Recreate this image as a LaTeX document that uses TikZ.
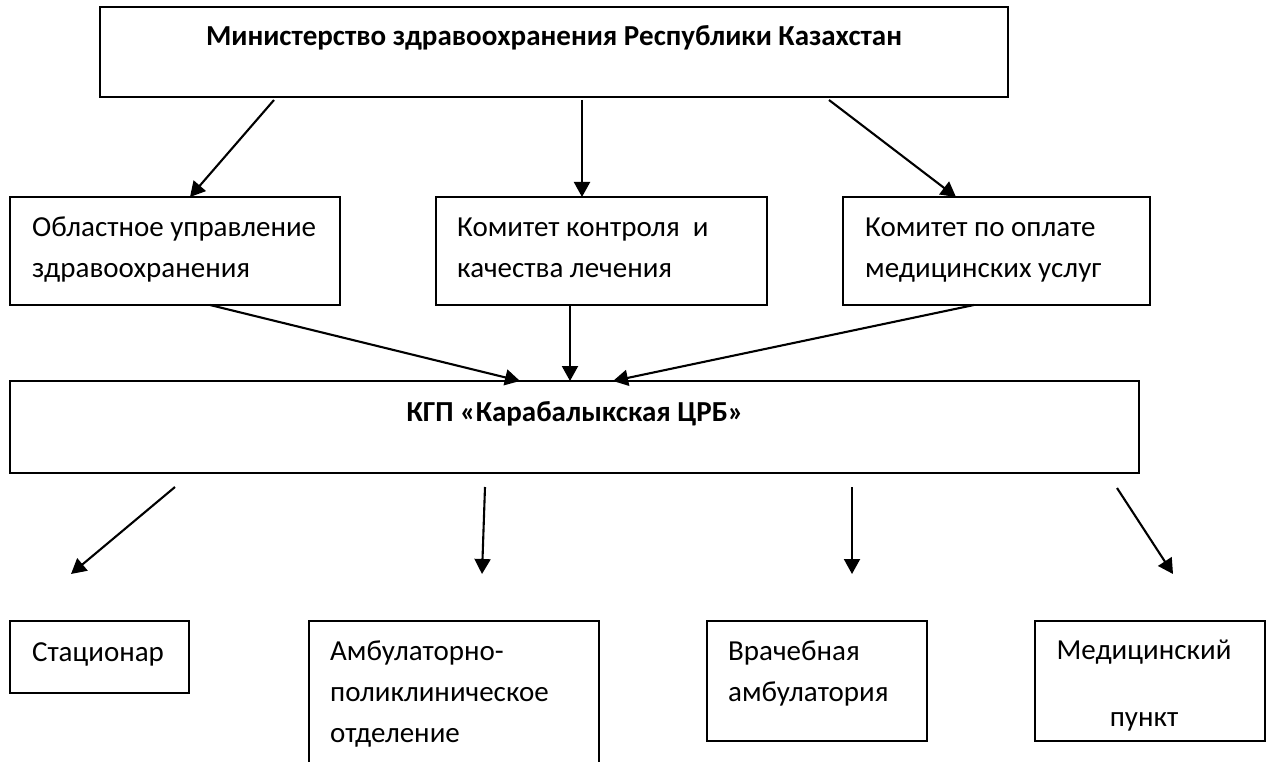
\documentclass[tikz,border=0pt]{standalone}
\usepackage{fontspec}
\setmainfont{Carlito}
\usetikzlibrary{arrows.meta,calc}
\begin{document}
\begin{tikzpicture}[x=1pt,y=-1pt,
  box/.style={draw, line width=2pt, rectangle, inner sep=0pt, outer sep=0pt, anchor=north west},
  lbl/.style={font=\fontsize{29}{41}\selectfont, inner sep=0pt},
  blbl/.style={font=\fontsize{29}{41}\selectfont\bfseries, inner sep=0pt},
  conn/.style={line width=2.1pt, -{Triangle[length=15pt,width=16pt]}}
]
\clip (0,0) rectangle (1269,762);
\useasboundingbox (0,0) rectangle (1269,762);

% boxes
\node[box, minimum width=908pt, minimum height=90pt] (min) at (100,7) {};
\node[blbl, anchor=base] (mint) at (554,46) {Министерство здравоохранения Республики Казахстан};

\node[box, minimum width=330pt, minimum height=108pt] (obl) at (10,197) {};
\node[lbl, anchor=base west, align=left] (oblt) at (32,277) {Областное управление\\здравоохранения};

\node[box, minimum width=331pt, minimum height=108pt] (kom) at (436,197) {};
\node[lbl, anchor=base west, align=left] (komt) at (457,277) {Комитет контроля\ \ и\\качества лечения};

\node[box, minimum width=307pt, minimum height=108pt] (opl) at (843,197) {};
\node[lbl, anchor=base west, align=left] (oplt) at (865,277) {Комитет по оплате\\медицинских услуг};

\node[box, minimum width=1129pt, minimum height=92pt] (kgp) at (10,381) {};
\node[blbl, anchor=base] (kgpt) at (575,421) {КГП «Карабалыкская ЦРБ»};

\node[box, minimum width=179pt, minimum height=72pt] (stac) at (10,621) {};
\node[lbl, anchor=base] (stact) at (98,661) {Стационар};

\node[box, minimum width=290pt, minimum height=170pt] (amb) at (309,621) {};
\node[lbl, anchor=base west, align=left] (ambt) at (330,742) {Амбулаторно-\\поликлиническое\\отделение};

\node[box, minimum width=220pt, minimum height=120pt] (vrach) at (707,621) {};
\node[lbl, anchor=base west, align=left] (vracht) at (728,701) {Врачебная\\амбулатория};

\node[box, minimum width=230pt, minimum height=120pt] (med) at (1035,621) {};
\node[lbl, anchor=base, align=center] (medt) at (1144,726) {Медицинский\\[26pt]пункт};

% connector end points
\coordinate (a1s) at ($(min.south west)+(174,3)$);
\coordinate (a1e) at ($(obl.north west)+(180,0)$);
\coordinate (a2s) at ($(min.south west)+(482,3)$);
\coordinate (a2e) at ($(kom.north west)+(146,0)$);
\coordinate (a3s) at ($(min.south west)+(729,3)$);
\coordinate (a3e) at ($(opl.north west)+(113,0)$);

\coordinate (b1s) at ($(obl.south west)+(200,0)$);
\coordinate (b1e) at ($(kgp.north west)+(510,0)$);
\coordinate (b2s) at ($(kom.south west)+(134,0)$);
\coordinate (b2e) at ($(kgp.north west)+(560,0)$);
\coordinate (b3s) at ($(opl.south west)+(131,0)$);
\coordinate (b3e) at ($(kgp.north west)+(603,0)$);

\coordinate (c1s) at ($(kgp.south west)+(165,14)$);
\coordinate (c1e) at (71,574);
\coordinate (c2s) at ($(kgp.south west)+(475,14)$);
\coordinate (c2e) at (482,574);
\coordinate (c3s) at ($(kgp.south west)+(842,14)$);
\coordinate (c3e) at (852,574);
\coordinate (c4s) at ($(kgp.south west)+(1107,15)$);
\coordinate (c4e) at (1173,574);

\draw[conn] (a1s) -- (a1e);
\draw[conn] (a2s) -- (a2e);
\draw[conn] (a3s) -- (a3e);
\draw[conn] (b1s) -- (b1e);
\draw[conn] (b2s) -- (b2e);
\draw[conn] (b3s) -- (b3e);
\draw[conn] (c1s) -- (c1e);
\draw[conn] (c2s) -- (c2e);
\draw[conn] (c3s) -- (c3e);
\draw[conn] (c4s) -- (c4e);
\end{tikzpicture}
\end{document}
